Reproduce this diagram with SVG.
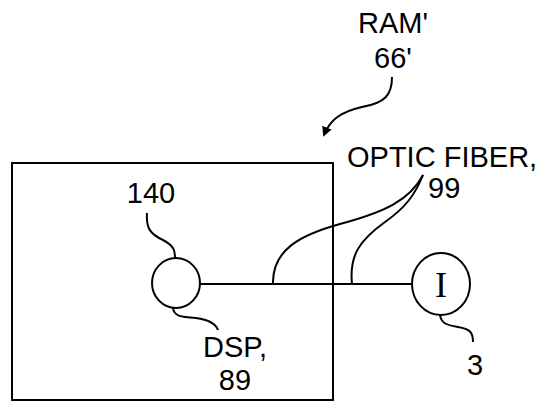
<svg xmlns="http://www.w3.org/2000/svg" width="550" height="403" viewBox="0 0 550 403">
<defs>
<style>
.t{font-family:"Liberation Sans",Arial,sans-serif;font-size:29px;fill:#000}
.s{font-family:"Liberation Serif","Times New Roman",serif;font-size:36px;fill:#000}
.ln{fill:none;stroke:#000;stroke-width:2}
</style>
<marker id="ah" markerWidth="10" markerHeight="10" refX="8" refY="5" orient="auto" markerUnits="userSpaceOnUse">
<path d="M0,0 L10,5 L0,10 Z" fill="#000"/>
</marker>
</defs>
<rect width="550" height="403" fill="#fff"/>
<g id="ram">
<rect class="ln" x="12" y="163" width="321" height="237"/>
<text class="t" x="393" y="33" text-anchor="middle">RAM'</text>
<text class="t" x="393" y="68" text-anchor="middle">66'</text>
</g>
<g id="dsp">
<ellipse class="ln" cx="176" cy="283" rx="24" ry="25"/>
<text class="t" x="151" y="203" text-anchor="middle">140</text>
<text class="t" x="235" y="357" text-anchor="middle">DSP,</text>
<text class="t" x="235" y="390" text-anchor="middle">89</text>
</g>
<g id="node3">
<ellipse class="ln" cx="441" cy="284" rx="29" ry="31"/>
<text class="s" x="441" y="297" text-anchor="middle">I</text>
<text class="t" x="475" y="375" text-anchor="middle">3</text>
</g>
<g id="fiber">
<text class="t" x="347" y="167">OPTIC FIBER,</text>
<text class="t" x="428" y="198">99</text>
</g>
<g id="connectors">
<path class="ln" d="M200,284 L412,284"/>
<path class="ln" d="M392,77 C392,95 385,103 362,107 C340,112 330,120 324,135" marker-end="url(#ah)"/>
<path class="ln" d="M273,284 C272,250 300,235 340,224 C385,212 410,200 423,175"/>
<path class="ln" d="M352,284 C349,255 360,240 385,222 C405,208 415,195 423,175"/>
<path class="ln" d="M147,213 C146,228 150,234 163,240 C174,246 175,250 175,258"/>
<path class="ln" d="M173,308 C174,316 180,317 196,318 C210,320 216,324 218,330"/>
<path class="ln" d="M440,315 C441,323 446,325 458,327 C470,329 473,332 473,342"/>
</g>
</svg>
